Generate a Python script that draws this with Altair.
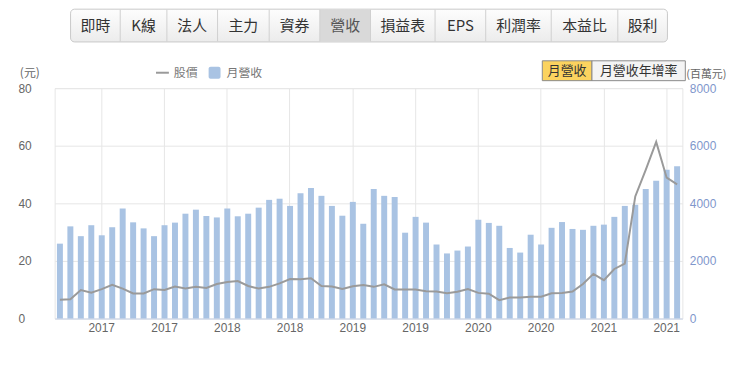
import altair as alt
import pandas as pd

# ---------------- data ----------------
months = [
    "2016-09", "2016-10", "2016-11", "2016-12",
    "2017-01", "2017-02", "2017-03", "2017-04", "2017-05", "2017-06",
    "2017-07", "2017-08", "2017-09", "2017-10", "2017-11", "2017-12",
    "2018-01", "2018-02", "2018-03", "2018-04", "2018-05", "2018-06",
    "2018-07", "2018-08", "2018-09", "2018-10", "2018-11", "2018-12",
    "2019-01", "2019-02", "2019-03", "2019-04", "2019-05", "2019-06",
    "2019-07", "2019-08", "2019-09", "2019-10", "2019-11", "2019-12",
    "2020-01", "2020-02", "2020-03", "2020-04", "2020-05", "2020-06",
    "2020-07", "2020-08", "2020-09", "2020-10", "2020-11", "2020-12",
    "2021-01", "2021-02", "2021-03", "2021-04", "2021-05", "2021-06",
    "2021-07", "2021-08",
]
revenue = [  # 月營收 (百萬元)
    2600, 3200, 2860, 3240,
    2890, 3170, 3820, 3340, 3130, 2860,
    3240, 3330, 3640, 3780, 3560, 3510,
    3820, 3550, 3640, 3850, 4120, 4160,
    3910, 4350, 4530, 4260, 3910, 3570,
    4050, 3290, 4500, 4260, 4220, 2980,
    3530, 3330, 2570, 2260, 2360, 2500,
    3430, 3320, 3220, 2450, 2290, 2910,
    2570, 3150, 3350, 3110, 3080, 3220,
    3260, 3530, 3910, 3950, 4500, 4780,
    5170, 5290,
]
price = [  # 股價 (元)
    6.5, 6.7, 9.9, 9.0,
    10.2, 11.7, 10.4, 8.7, 8.7, 10.2,
    9.9, 11.1, 10.4, 11.0, 10.6, 12.0,
    12.7, 13.0, 11.3, 10.4, 11.0, 12.2,
    13.7, 13.6, 14.0, 11.3, 11.1, 10.3,
    11.2, 11.6, 11.0, 11.9, 10.1, 10.1,
    10.1, 9.5, 9.4, 8.8, 9.3, 10.2,
    8.9, 8.6, 6.4, 7.3, 7.3, 7.6,
    7.6, 8.8, 8.9, 9.4, 12.0, 15.5,
    13.3, 17.2, 19.1, 42.4, 51.6, 61.3,
    48.9, 46.6,
]
price_ticks = [0, 20, 40, 60, 80]
revenue_ticks = [0, 2000, 4000, 6000, 8000]
year_ticks = [m for m in months if m.endswith("-01") or m.endswith("-07")]

tab_labels = ["即時", "K線", "法人", "主力", "資券", "營收", "損益表", "EPS", "利潤率", "本益比", "股利"]
selected_tab = "營收"
button_labels = ["月營收", "月營收年增率"]

# ---------------- layout (page pixels) ----------------
tab_edges = [71, 121, 168, 219, 271, 322, 373, 438, 489, 555, 622, 672]
button_edges = [546, 596, 690]
OX, OY = 55, 87.5          # plot origin on the page
W, H = 632, 232            # plot size

BAR = "#a9c3e3"
LINE = "#9a9a9a"
GRID = "#e6e6e6"
CJK = "Noto Sans CJK TC"
NUM = "Liberation Sans"


def px(x):
    return x - OX


def py(y):
    return y - OY


one = pd.DataFrame({"k": [0]})


def rect(x0, x1, y0, y1, **kw):
    return alt.Chart(one).mark_rect(**kw).encode(
        x=alt.value(px(x0)), x2=alt.value(px(x1)),
        y=alt.value(py(y0)), y2=alt.value(py(y1)))


def vrule(x, y0, y1, **kw):
    return alt.Chart(one).mark_rule(**kw).encode(
        x=alt.value(px(x)), y=alt.value(py(y0)), y2=alt.value(py(y1)))


def hrule(x0, x1, y, **kw):
    return alt.Chart(one).mark_rule(**kw).encode(
        x=alt.value(px(x0)), x2=alt.value(px(x1)), y=alt.value(py(y)))


def text(x, y, s, **kw):
    return alt.Chart(one).mark_text(text=s, **kw).encode(
        x=alt.value(px(x)), y=alt.value(py(y)))


df = pd.DataFrame({"month": months, "revenue": revenue, "price": price})

x_enc = alt.X(
    "month:O", title=None, sort=None,
    scale=alt.Scale(paddingInner=0.43, paddingOuter=0.215),
    axis=alt.Axis(values=year_ticks, labelExpr="slice(datum.value, 0, 4)",
                  labelAngle=0, bandPosition=0.5, grid=True, gridColor=GRID,
                  ticks=False, domainColor="#ccd6eb", labelColor="#666666",
                  labelFont=NUM, labelFontSize=12, labelPadding=4),
)

bars = alt.Chart(df).mark_bar(color=BAR).encode(
    x=x_enc,
    y=alt.Y("revenue:Q", title=None,
            scale=alt.Scale(domain=[0, 8000], nice=False),
            axis=alt.Axis(orient="right", values=revenue_ticks, grid=False,
                          format="d", ticks=False, domain=False,
                          labelAlign="left", labelBaseline="middle",
                          labelPadding=7, labelColor="#7f97cc",
                          labelFont=NUM, labelFontSize=12)),
)

line = alt.Chart(df).mark_line(color=LINE, strokeWidth=2).encode(
    x=x_enc,
    y=alt.Y("price:Q", title=None,
            scale=alt.Scale(domain=[0, 80], nice=False),
            axis=alt.Axis(orient="left", values=price_ticks, grid=True,
                          gridColor=GRID, ticks=False, domain=False,
                          labelAlign="left", labelBaseline="middle",
                          labelPadding=37, labelColor="#666666",
                          labelFont=NUM, labelFontSize=12)),
)

deco = []
# tab strip
tab_grad = alt.Gradient(gradient="linear", x1=0, x2=0, y1=0, y2=1,
                        stops=[alt.GradientStop(color="#fdfdfd", offset=0),
                               alt.GradientStop(color="#ececec", offset=1)])
deco.append(rect(tab_edges[0], tab_edges[-1], 8, 41, color=tab_grad,
                 stroke="#c9c9c9", strokeWidth=1, cornerRadius=4))
for i, lab in enumerate(tab_labels):
    x0, x1 = tab_edges[i], tab_edges[i + 1]
    if lab == selected_tab:
        deco.append(rect(x0, x1, 8.5, 40.5, color="#d9d9d9"))
    if i > 0:
        deco.append(vrule(x0, 8.5, 40.5, color="#d0d0d0", strokeWidth=1))
    deco.append(text((x0 + x1) / 2, 25, lab, font=CJK, fontSize=15,
                     color="#555555" if lab == selected_tab else "#333333",
                     align="center", baseline="middle"))

# buttons
for i, lab in enumerate(button_labels):
    x0, x1 = button_edges[i], button_edges[i + 1]
    deco.append(rect(x0, x1, 60, 80, color="#fbd35f" if i == 0 else "#f4f4f4",
                     stroke="#8a8a8a", strokeWidth=1))
    deco.append(text((x0 + x1) / 2, 70.5, lab, font=CJK, fontSize=13,
                     color="#333333", align="center", baseline="middle"))

# legend
deco.append(hrule(157, 170, 72, color=LINE, strokeWidth=2))
deco.append(text(175, 72, "股價", font=CJK, fontSize=12, color="#777777",
                 align="left", baseline="middle"))
deco.append(rect(210, 222, 66, 78, color=BAR, cornerRadius=2))
deco.append(text(228, 72, "月營收", font=CJK, fontSize=12, color="#777777",
                 align="left", baseline="middle"))

# axis unit titles
deco.append(text(30, 72, "(元)", font=CJK, fontSize=12, color="#666666",
                 align="center", baseline="middle"))
deco.append(text(691, 74, "(百萬元)", font=CJK, fontSize=11, color="#666666",
                 align="left", baseline="middle"))

chart = alt.layer(bars, line, *deco).resolve_scale(y="independent").properties(
    width=W, height=H,
    padding={"left": OX - 8, "top": OY - 8, "right": 50, "bottom": 28},
    autosize=alt.AutoSizeParams(type="none"),
    background="white",
).configure_view(stroke=GRID)

chart.save("out.html", embed_options={"renderer": "svg", "actions": False})
